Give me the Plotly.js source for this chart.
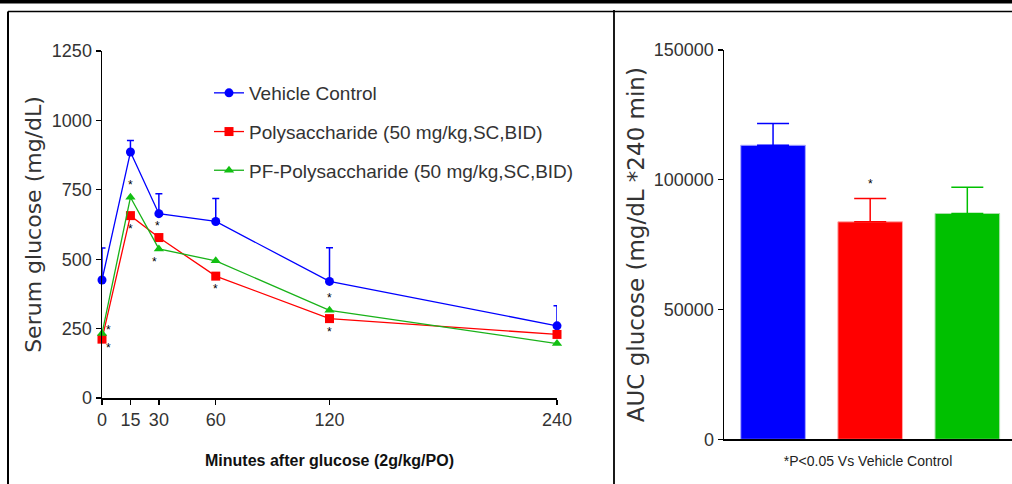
<!DOCTYPE html>
<html>
<head>
<meta charset="utf-8">
<script src="https://cdn.plot.ly/plotly-3.0.1.min.js"></script>
<style>html,body{margin:0;padding:0;background:#fff;}#chart{width:1012px;height:484px;}</style>
</head>
<body>
<div id="chart"></div>
<script>
// ---- Data: serum glucose time course ----
const timePoints = [0, 15, 30, 60, 120, 240];
const timeTickLabels = ["0", "15", "30", "60", "120", "240"];
const vehicleGlucose = [425, 886, 664, 636, 420, 260];
const vehicleGlucoseErr = [115, 42, 72, 83, 121, 72];
const polyGlucose = [212, 657, 578, 439, 286, 229];
const pfPolyGlucose = [232, 723, 537, 494, 316, 196];
const seriesNames = ["Vehicle Control", "Polysaccharide (50 mg/kg,SC,BID)", "PF-Polysaccharide (50 mg/kg,SC,BID)"];
const glucoseTicks = [0, 250, 500, 750, 1000, 1250];

// significance marks on the time course: time, series the mark belongs to
const starTimes = [0, 0, 15, 15, 30, 30, 60, 120, 120];
const starSeries = ["pf", "poly", "pf", "poly", "poly", "pf", "poly", "pf", "poly"];

// ---- Data: AUC ----
const aucGroups = ["Vehicle Control", "Polysaccharide", "PF-Polysaccharide"];
const aucValues = [113300, 83800, 87000];
const aucErr = [8400, 9000, 10100];
const aucSignificant = [false, true, false];
const aucTicks = [0, 50000, 100000, 150000];

// ---- Styles ----
const SANS = '"Liberation Sans", Arial, sans-serif';
const WIDE = '"DejaVu Sans", sans-serif';
const BLUE = '#0000ff', RED = '#ff0000', GREEN = '#19b219';
const barColors = [BLUE, RED, '#00c000'];
const barEdges = ['#a8a8ff', '#ffa8a8', '#a8e0a8'];
const W = 1012, H = 484;
const px = v => v / W, py = v => 1 - v / H;

const traces = [
  {x: timePoints, y: vehicleGlucose, name: seriesNames[0], type: 'scatter', mode: 'lines+markers',
   legendgroup: 'a', cliponaxis: false,
   line: {color: BLUE, width: 1.3}, marker: {symbol: 'circle', size: 9, color: BLUE},
   error_y: {type: 'data', symmetric: false, array: vehicleGlucoseErr, arrayminus: vehicleGlucose.map(() => 0),
             color: BLUE, thickness: 1.5, width: 3.5},
   xaxis: 'x', yaxis: 'y'},
  {x: timePoints, y: polyGlucose, name: seriesNames[1], type: 'scatter', mode: 'lines+markers',
   legendgroup: 'b', cliponaxis: false,
   line: {color: RED, width: 1.3}, marker: {symbol: 'square', size: 9, color: RED},
   xaxis: 'x', yaxis: 'y'},
  {x: timePoints, y: pfPolyGlucose, name: seriesNames[2], type: 'scatter', mode: 'lines+markers',
   legendgroup: 'c', cliponaxis: false,
   line: {color: GREEN, width: 1.3}, marker: {symbol: 'triangle-up', size: 9, color: '#12c012'},
   xaxis: 'x', yaxis: 'y'}
];
aucGroups.forEach((g, i) => {
  traces.push({x: [g], y: [aucValues[i]], type: 'bar', showlegend: false, name: g,
    marker: {color: barColors[i], line: {color: barEdges[i], width: 1}},
    error_y: {type: 'data', symmetric: false, array: [aucErr[i]], arrayminus: [0],
              color: barColors[i], thickness: 1.5, width: 16},
    xaxis: 'x2', yaxis: 'y2'});
});

// significance annotations
const seriesLookup = {poly: polyGlucose, pf: pfPolyGlucose};
const annotations = [];
starTimes.forEach((t, i) => {
  const s = starSeries[i];
  const idx = timePoints.indexOf(t);
  const v = seriesLookup[s][idx];
  const other = s === 'poly' ? pfPolyGlucose[idx] : polyGlucose[idx];
  const above = v >= other;
  annotations.push({x: t, y: v, xref: 'x', yref: 'y', text: '*', showarrow: false,
    xshift: t === 0 ? 6 : (t === 30 ? (above ? -1 : -4) : 0),
    yshift: t === 0 ? (above ? 4 : -9) : (above ? 12 : -13),
    font: {family: SANS, size: 12, color: '#000'}});
});
aucValues.forEach((v, i) => {
  if (aucSignificant[i]) annotations.push({x: aucGroups[i], y: v + aucErr[i], xref: 'x2', yref: 'y2',
    text: '*', showarrow: false, yshift: 14, font: {family: SANS, size: 12, color: '#000'}});
});

const shapes = [
  {type: 'rect', xref: 'paper', yref: 'paper', x0: 0, x1: 1, y0: py(3.5), y1: 1, fillcolor: '#000', line: {width: 0}},
  {type: 'line', xref: 'paper', yref: 'paper', x0: px(8), x1: 1, y0: py(11.5), y1: py(11.5), line: {color: '#000', width: 1.5}},
  {type: 'line', xref: 'paper', yref: 'paper', x0: px(8), x1: px(8), y0: 0, y1: py(11.5), line: {color: '#000', width: 2}},
  {type: 'line', xref: 'paper', yref: 'paper', x0: px(614), x1: px(614), y0: 0, y1: py(10), line: {color: '#000', width: 1.8}}
];

const layout = {
  width: W, height: H,
  margin: {l: 0, r: 0, t: 0, b: 0},
  paper_bgcolor: '#fff', plot_bgcolor: 'rgba(0,0,0,0)',
  showlegend: true, barmode: 'overlay',
  font: {family: SANS, color: '#222'},
  xaxis: {domain: [px(102), px(557)], range: [0, 240], tickvals: timePoints, ticktext: timeTickLabels,
          showgrid: false, zeroline: false, showline: true, linecolor: '#000', linewidth: 1.5,
          ticks: 'outside', ticklen: 5, tickcolor: '#000', tickwidth: 1.3,
          tickfont: {family: SANS, size: 18, color: '#333'}, anchor: 'y',
          title: {text: 'Minutes after glucose (2g/kg/PO)', standoff: 25,
                  font: {family: SANS, size: 16, color: '#111', weight: 'bold'}}},
  yaxis: {domain: [py(398), py(51)], range: [0, 1250], tickvals: glucoseTicks,
          showgrid: false, zeroline: false, showline: true, linecolor: '#000', linewidth: 1.5,
          ticks: 'outside', ticklen: 5, tickcolor: '#000', tickwidth: 1.3,
          tickfont: {family: SANS, size: 18, color: '#333'}, anchor: 'x',
          title: {text: 'Serum glucose (mg/dL)', standoff: 4, font: {family: WIDE, size: 22, color: '#333'}}},
  xaxis2: {domain: [px(724), 1], range: [-0.505, 2.46], type: 'category', showticklabels: false,
           showgrid: false, zeroline: false, showline: true, linecolor: '#000', linewidth: 1.5, ticks: '',
           anchor: 'y2',
           title: {text: '*P<0.05 Vs Vehicle Control', standoff: 16, font: {family: SANS, size: 14, color: '#222'}}},
  yaxis2: {domain: [py(439.3), py(50)], range: [0, 150000], tickvals: aucTicks, tickformat: 'd',
           showgrid: false, zeroline: false, showline: true, linecolor: '#000', linewidth: 1.5,
           ticks: 'outside', ticklen: 5, tickcolor: '#000', tickwidth: 1.3,
           tickfont: {family: SANS, size: 18, color: '#333'}, anchor: 'x2',
           title: {text: 'AUC glucose (mg/dL *240 min)', standoff: 3, font: {family: WIDE, size: 23, color: '#333'}}},
  bargap: 0.335,
  legend: {x: px(209), y: py(74), xanchor: 'left', yanchor: 'top', bgcolor: 'rgba(0,0,0,0)',
           font: {family: SANS, size: 19, color: '#333'}, tracegroupgap: 11, itemwidth: 30},
  annotations: annotations,
  shapes: shapes
};

Plotly.newPlot('chart', traces, layout, {displayModeBar: false, staticPlot: true});
</script>
</body>
</html>
